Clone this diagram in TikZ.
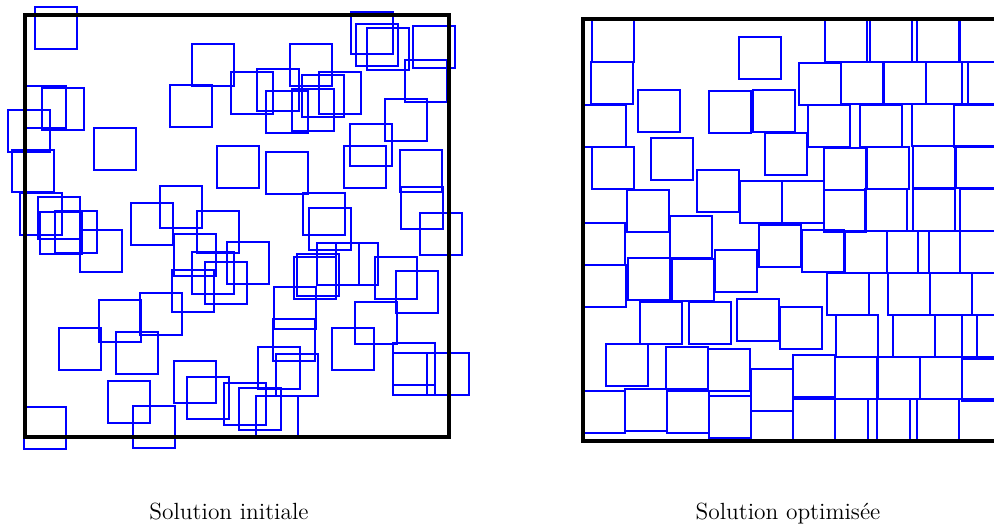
\documentclass[tikz,border=0pt]{standalone}
\usepackage{tikz}
\tikzset{
    sqbox/.style={draw=blue, line width=0.6pt},
    panel/.style={draw=black, line width=1.6pt},
    caption/.style={font=\fontsize{11.7}{14}\selectfont, anchor=base}
}

\begin{document}
\begin{tikzpicture}[x=0.5pt,y=-0.5pt]
    \clip (0,0) rectangle (994,524);
    % initial solution: squares thrown at random
    \foreach \x/\y in {35/7,192/44,231/72,170/85,24/86,42/88,8/110,12/150,94/128,217/146,
        290/44,351/12,356/24,367/28,413/26,405/60,257/69,266/91,302/75,319/72,292/89,
        385/99,350/124,344/146,400/150,266/152,20/193,38/197,40/212,55/211,80/230,
        131/203,160/186,174/234,197/211,227/242,192/252,205/262,172/270,99/300,140/293,
        401/187,420/213,303/193,309/208,317/243,336/243,294/257,297/254,375/257,396/271,
        274/287,355/302,59/328,116/332,174/361,187/377,224/383,239/388,108/381,133/406,
        24/407,273/319,258/347,276/354,256/396,332/328,393/343,393/353,427/353}
        \draw[sqbox] (\x,\y) rectangle ++(42,42);
    \draw[panel] (25,15) rectangle (449,437);
    % optimised solution: squares packed together
    \foreach \x/\y in {592/20,825/20,870/20,917/20,960/20,
        591/62,799/63,841/62,884/62,926/62,962/62,638/90,709/91,753/90,739/37,
        584/105,808/105,860/105,912/104,954/105,765/133,651/138,592/147,
        824/148,867/147,913/146,956/146,697/170,740/181,782/181,627/190,
        824/190,865/189,913/189,960/189,670/216,583/223,759/225,802/230,
        845/231,887/231,918/231,960/231,715/250,628/258,672/259,584/265,
        827/273,888/273,930/273,972/273,737/299,640/302,689/302,780/307,
        836/315,893/315,935/315,962/315,606/344,666/347,708/349,751/369,
        793/355,835/357,878/357,920/357,962/359,583/391,625/389,667/391,
        709/396,793/399,835/399,868/399,917/399,959/399}
        \draw[sqbox] (\x,\y) rectangle ++(42,42);
    \draw[panel] (583,19) rectangle (1007,441);
    \node[caption] (init) at (229,519) {Solution initiale};
    \node[caption] (opt) at (788,519) {Solution optimisée};
\end{tikzpicture}
\end{document}
